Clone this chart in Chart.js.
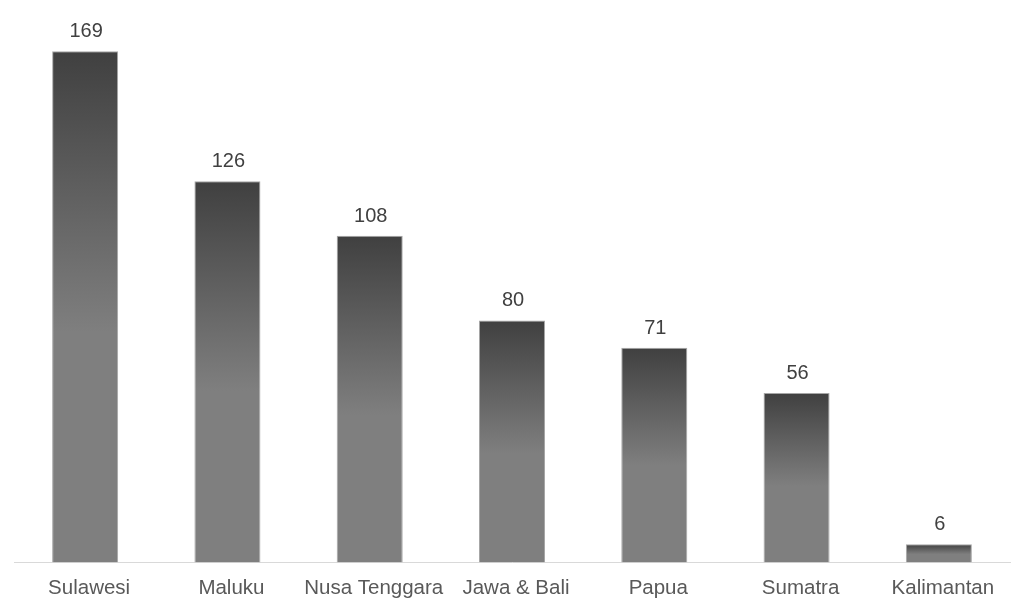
<!DOCTYPE html>
<html>
<head>
<meta charset="utf-8">
<script src="https://cdn.jsdelivr.net/npm/chart.js@4"></script>
<style>
  html, body { margin:0; padding:0; background:#fff; }
  #wrap { width:1024px; height:610px; }
</style>
</head>
<body>
<div id="wrap"><canvas id="c"></canvas></div>
<script>
const regions = ['Sulawesi', 'Maluku', 'Nusa Tenggara', 'Jawa & Bali', 'Papua', 'Sumatra', 'Kalimantan'];
const counts = [169, 126, 108, 80, 71, 56, 6];

// per-bar gradient: dark at the top, mid gray from ~55% down
function barFill(ctx){
  const chart = ctx.chart;
  const y = chart.scales && chart.scales.y;
  if (!chart.chartArea || !y || ctx.raw == null) return '#7f7f7f';
  const top = y.getPixelForValue(ctx.raw), base = y.getPixelForValue(0);
  const g = chart.ctx.createLinearGradient(0, top, 0, base);
  g.addColorStop(0, '#404040');
  g.addColorStop(0.55, '#7f7f7f');
  g.addColorStop(1, '#7f7f7f');
  return g;
}

const valueLabels = {
  id: 'valueLabels',
  afterDatasetsDraw(chart){
    const c = chart.ctx;
    const meta = chart.getDatasetMeta(0);
    c.save();
    c.font = '20px "Liberation Sans", Arial, sans-serif';
    c.fillStyle = '#404040';
    c.textAlign = 'center';
    c.textBaseline = 'alphabetic';
    meta.data.forEach((bar, i) => {
      c.fillText(String(counts[i]), bar.x + 1, bar.y - 14);
    });
    c.restore();
  }
};

new Chart(document.getElementById('c'), {
  type: 'bar',
  data: {
    labels: regions,
    datasets: [{
      data: counts,
      backgroundColor: barFill,
      borderColor: '#a6a6a6',
      borderWidth: 1,
      categoryPercentage: 1,
      barPercentage: 0.464
    }]
  },
  options: {
    responsive: true,
    maintainAspectRatio: false,
    animation: false,
    layout: { padding: { left: 14, right: 14, top: 18, bottom: -5 } },
    plugins: { legend: { display: false }, tooltip: { enabled: false } },
    scales: {
      x: {
        grid: { display: false, drawTicks: false },
        border: { color: '#d9d9d9', width: 1 },
        ticks: {
          color: '#595959',
          font: { family: '"Liberation Sans", Arial, sans-serif', size: 20.5 },
          padding: 14,
          labelOffset: 4,
          maxRotation: 0, autoSkip: false
        }
      },
      y: { display: false, min: 0, max: 180 }
    }
  },
  plugins: [valueLabels]
});
</script>
</body>
</html>
